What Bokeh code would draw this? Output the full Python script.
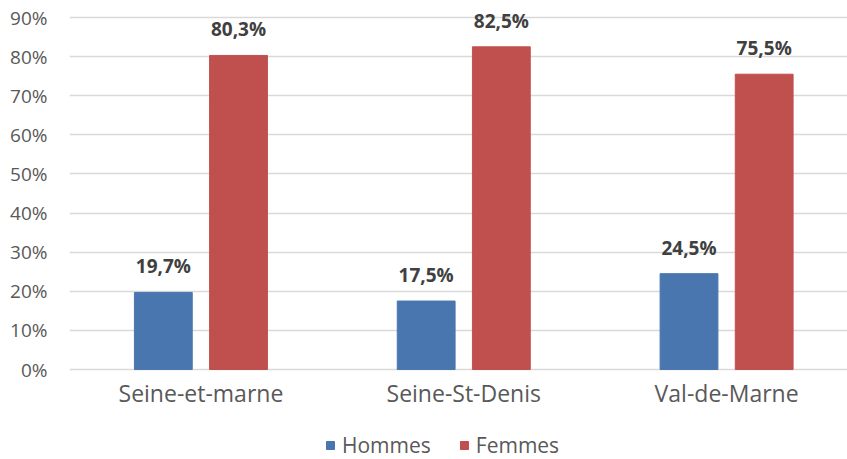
from bokeh.plotting import figure
from bokeh.models import (Range1d, FixedTicker, NumeralTickFormatter, ColumnDataSource,
                          Legend, LegendItem)
from bokeh.core.properties import value
from bokeh.embed import file_html
from bokeh.resources import INLINE

categories = ["Seine-et-marne", "Seine-St-Denis", "Val-de-Marne"]
hommes = [0.197, 0.175, 0.245]
femmes = [0.803, 0.825, 0.755]
hommes_labels = ["19,7%", "17,5%", "24,5%"]
femmes_labels = ["80,3%", "82,5%", "75,5%"]
y_ticks = [0.0, 0.1, 0.2, 0.3, 0.4, 0.5, 0.6, 0.7, 0.8, 0.9]

BLUE = "#4A76AF"
RED = "#C0504D"
FONT = "Open Sans"

xpos = list(range(len(categories)))
off = 0.143
bw = 0.22

# pixel layout: 0% at y=369, 90% at y=17 of a 459px-high canvas
px_per_unit = (369 - 17) / 0.9
y_lo = -(459 - 369) / px_per_unit
y_hi = 0.9 + 17 / px_per_unit

src_h = ColumnDataSource(dict(x=[i - off for i in xpos], top=hommes, label=hommes_labels))
src_f = ColumnDataSource(dict(x=[i + off for i in xpos], top=femmes, label=femmes_labels))
src_c = ColumnDataSource(dict(x=xpos, y=[0] * len(xpos), label=categories))

p = figure(width=847, height=459, output_backend="svg", toolbar_location=None,
           x_range=Range1d(-0.5, 2.46), y_range=Range1d(y_lo, y_hi),
           min_border_left=69, min_border_right=0, min_border_top=0, min_border_bottom=0)
p.outline_line_color = None
p.background_fill_color = "white"

rh = p.vbar(x="x", top="top", bottom=0, width=bw, source=src_h, fill_color=BLUE, line_color=BLUE)
rf = p.vbar(x="x", top="top", bottom=0, width=bw, source=src_f, fill_color=RED, line_color=RED)

for s in (src_h, src_f):
    p.text(x="x", y="top", text="label", source=s, text_align="center",
           text_baseline="bottom", y_offset=-13, text_font=value(FONT),
           text_font_style="bold", text_font_size="19px", text_color="#404040")

# category labels (x axis)
p.text(x="x", y="y", text="label", source=src_c, text_align="center",
       text_baseline="top", y_offset=7, text_font=value(FONT),
       text_font_size="23px", text_color="#595959")
p.xaxis.visible = False

# y axis
p.yaxis.ticker = FixedTicker(ticks=y_ticks)
p.yaxis.formatter = NumeralTickFormatter(format="0%")
p.yaxis.axis_line_color = None
p.yaxis.major_tick_line_color = None
p.yaxis.minor_tick_line_color = None
p.yaxis.major_label_text_font = FONT
p.yaxis.major_label_text_font_size = "19px"
p.yaxis.major_label_text_color = "#595959"
p.yaxis.major_label_standoff = 16

p.xgrid.grid_line_color = None
p.ygrid.ticker = FixedTicker(ticks=y_ticks)
p.ygrid.grid_line_color = "#D9D9D9"
p.ygrid.grid_line_width = 1.5

legend = Legend(items=[LegendItem(label="Hommes", renderers=[rh]),
                       LegendItem(label="Femmes", renderers=[rf])],
                orientation="horizontal", location=(256, 0),
                glyph_width=10, glyph_height=10, spacing=28, padding=0, margin=0,
                label_text_font=FONT, label_text_font_size="21px",
                label_text_color="#595959", label_standoff=7,
                border_line_color=None, background_fill_alpha=0)
p.add_layout(legend, "center")

open("out.html", "w").write(file_html(p, INLINE))
